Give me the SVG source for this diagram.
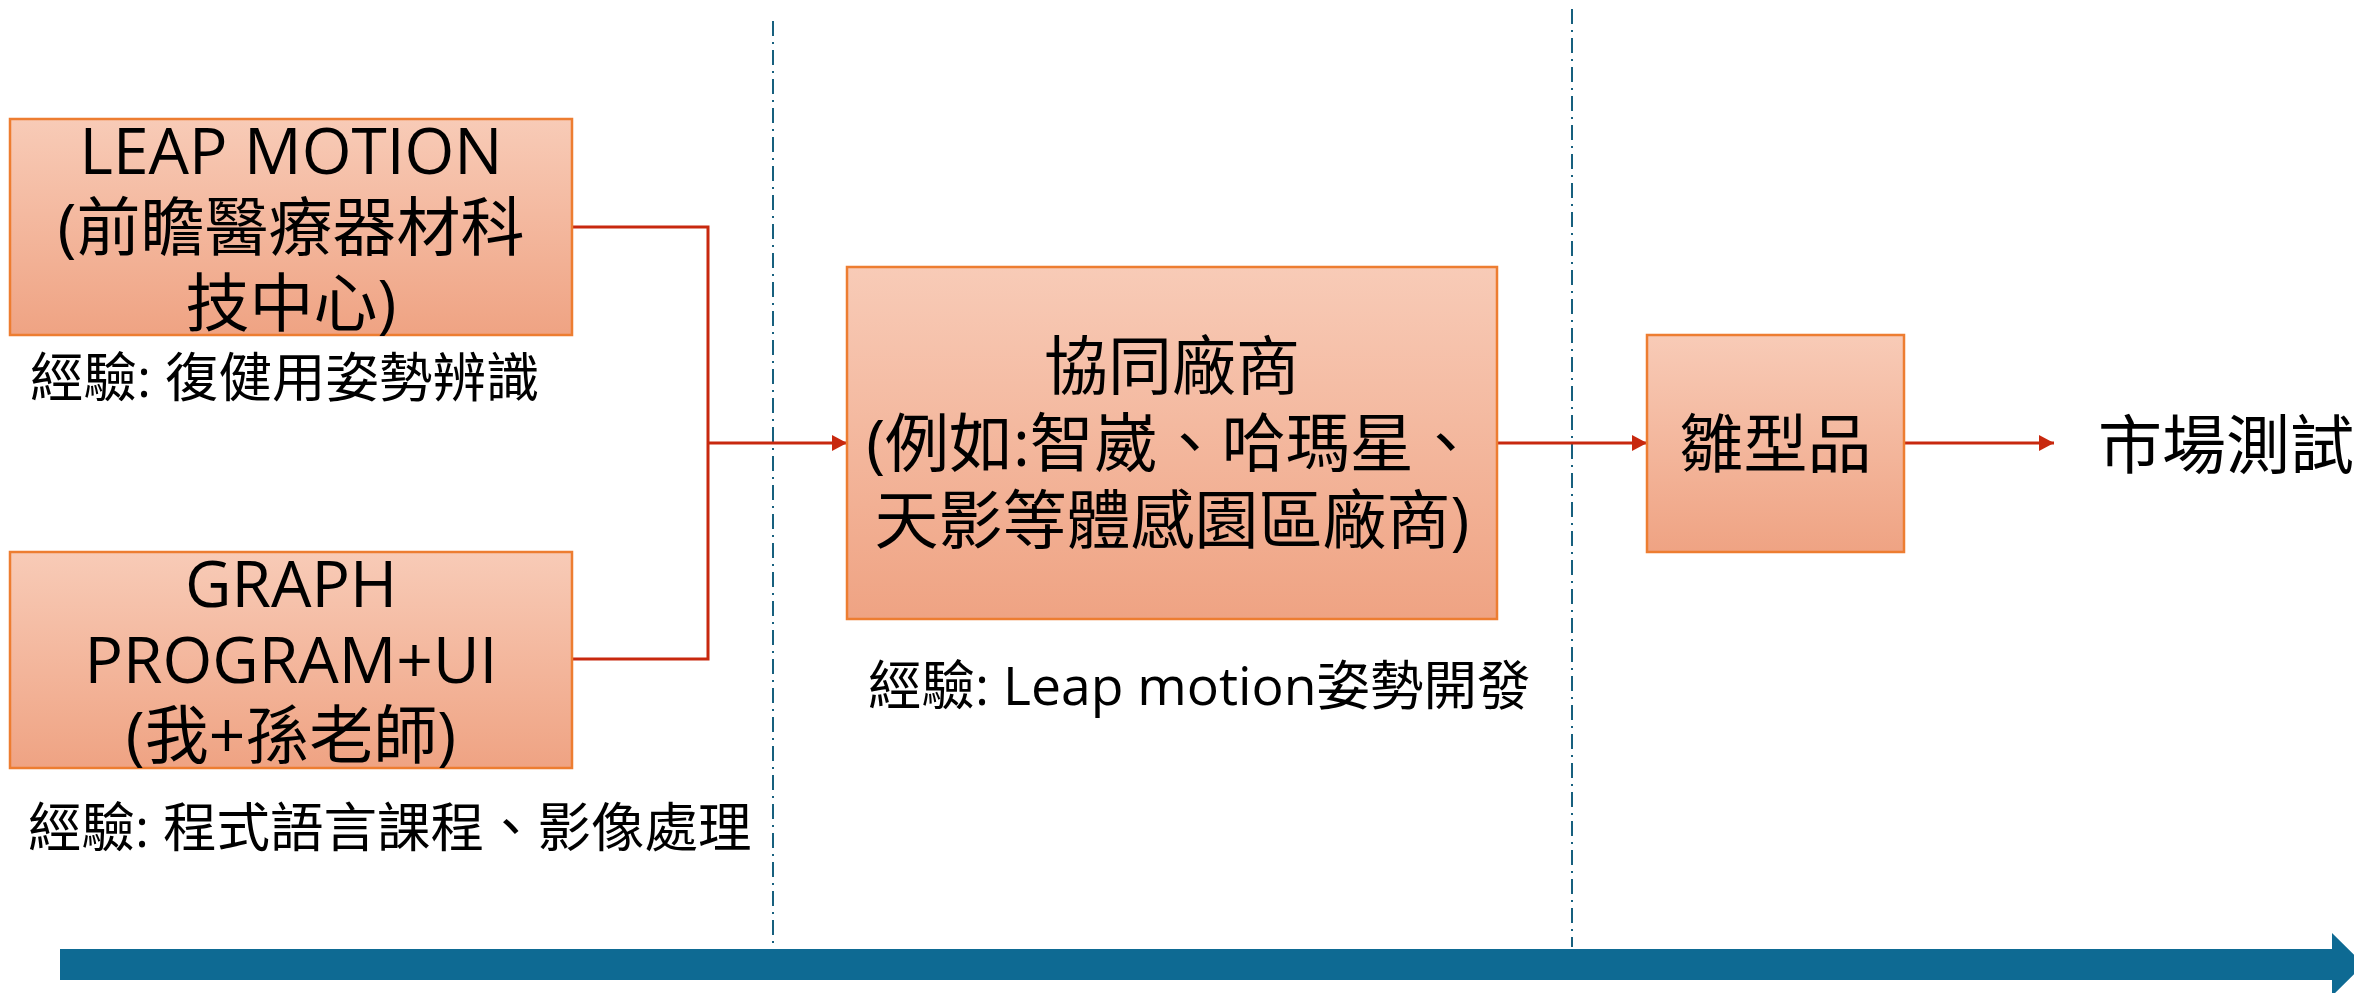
<svg xmlns="http://www.w3.org/2000/svg" width="2354" height="993" viewBox="0 0 2354 993">
<style>
.box{fill:url(#g);stroke:#ED7D31;stroke-width:2.5}
.t{font-family:"Open Sans","Noto Sans CJK TC",sans-serif;font-size:64px;fill:#000;text-anchor:middle}
.l{font-family:"Open Sans","Noto Sans CJK TC",sans-serif;font-size:53.5px;fill:#000}
.c{fill:none;stroke:#C8280E;stroke-width:3}
.d{fill:none;stroke:#17607E;stroke-width:2;stroke-dasharray:15 6 2 6}
</style>
<defs>
<linearGradient id="g" x1="0" y1="0" x2="0" y2="1">
<stop offset="0" stop-color="#F8CBB7"/>
<stop offset="1" stop-color="#EFA383"/>
</linearGradient>
<marker id="a" markerUnits="userSpaceOnUse" markerWidth="16" markerHeight="16" refX="15" refY="8" orient="auto">
<path d="M0,0 L15,8 L0,16 Z" fill="#C8280E"/>
</marker>
</defs>
<rect width="2354" height="993" fill="#fff"/>
<g id="dividers">
<line class="d" x1="773" y1="21" x2="773" y2="958"/>
<line class="d" x1="1572" y1="9" x2="1572" y2="947"/>
</g>
<g id="timeline">
<path d="M60,949 H2332 V933 L2364,964.5 L2332,996 V980 H60 Z" fill="#0E6A93"/>
</g>
<g id="connectors">
<polyline class="c" points="572,227 708,227 708,659 572,659"/>
<line class="c" x1="708" y1="443" x2="847" y2="443" marker-end="url(#a)"/>
<line class="c" x1="1497" y1="443" x2="1647" y2="443" marker-end="url(#a)"/>
<line class="c" x1="1904" y1="443" x2="2054" y2="443" marker-end="url(#a)"/>
</g>
<g id="leap-motion">
<rect class="box" x="10" y="119" width="562" height="216"/>
<text class="t" x="291" y="174">LEAP MOTION</text>
<text class="t" x="291" y="250">(前瞻醫療器材科</text>
<text class="t" x="291" y="326">技中心)</text>
</g>
<text id="exp1" class="l" x="30" y="397">經驗: 復健用姿勢辨識</text>
<g id="graph-program">
<rect class="box" x="10" y="552" width="562" height="216"/>
<text class="t" x="291" y="607">GRAPH</text>
<text class="t" x="291" y="683">PROGRAM+UI</text>
<text class="t" x="291" y="758">(我+孫老師)</text>
</g>
<text id="exp2" class="l" x="28" y="847">經驗: 程式語言課程、影像處理</text>
<g id="partners">
<rect class="box" x="847" y="267" width="650" height="352"/>
<text class="t" x="1172" y="389">協同廠商</text>
<text class="t" x="1172" y="466">(例如:智崴、哈瑪星、</text>
<text class="t" x="1172" y="543">天影等體感園區廠商)</text>
</g>
<text id="exp3" class="l" x="868" y="705">經驗: Leap motion姿勢開發</text>
<g id="prototype">
<rect class="box" x="1647" y="335" width="257" height="217"/>
<text class="t" x="1775.5" y="467">雛型品</text>
</g>
<g id="market-test">
<text class="t" x="2226" y="468">市場測試</text>
</g>
</svg>
